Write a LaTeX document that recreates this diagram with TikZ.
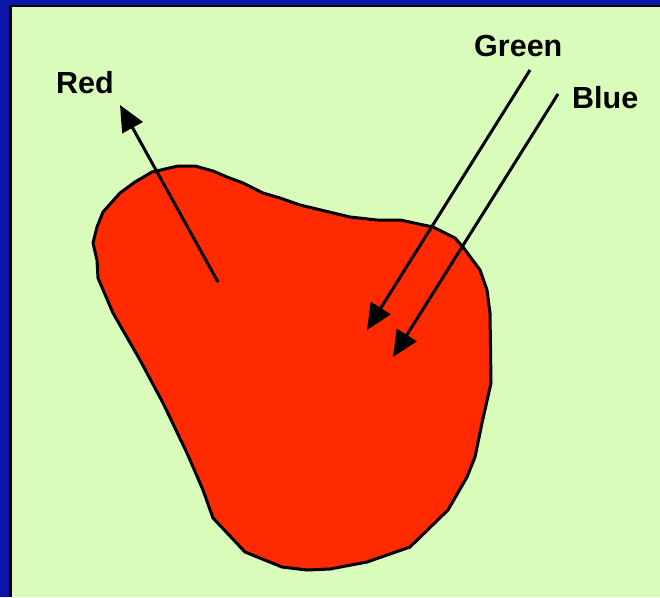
\documentclass[tikz,border=0pt]{standalone}
\usepackage{fontspec}
\setmainfont{Liberation Sans}
\usetikzlibrary{arrows.meta}
\definecolor{slideblue}{RGB}{10,22,168}
\definecolor{bggreen}{RGB}{218,252,186}
\definecolor{blobred}{RGB}{255,42,0}
\tikzset{
  arr/.style={line width=3pt,-{Triangle[length=26pt,width=23pt]}},
  lbl/.style={anchor=base west,inner sep=0pt,font=\fontsize{30.5}{31}\selectfont\bfseries},
  blob/.style={fill=blobred,draw=black,line width=3pt,line join=round}
}
\begin{document}
\begin{tikzpicture}[x=1pt,y=-1pt]
\useasboundingbox (0,0) rectangle (660,597);
% slide frame
\fill[slideblue] (0,0) rectangle (660,597);
\fill[bggreen] (10.5,6) rectangle (660,597);
\draw[black,line width=2.5pt] (10.5,597) -- (10.5,6) -- (660,6);
% blob
\draw[blob] (178,166) -- (195,166) -- (213,171) -- (227,177) -- (243,183) -- (263,193) -- (280,198)
  -- (300,205) -- (350,217) -- (377,220) -- (400,220) -- (433,227) -- (455,238) -- (463,247)
  -- (480,270) -- (487,290) -- (490,313) -- (491,383) -- (482,423) -- (475,457) -- (467,477)
  -- (448,510) -- (410,547) -- (367,562) -- (330,569) -- (307,570) -- (282,567) -- (245,552)
  -- (213,518) -- (203,490) -- (187,453) -- (163,403) -- (140,360) -- (113,313) -- (98,278)
  -- (97,260) -- (93,243) -- (97,227) -- (103,212) -- (120,193) -- (135,182) -- (152,172) -- cycle;
% labels
\node[lbl] (red) at (56,93) {Red};
\node[lbl] (green) at (474,56) {Green};
\node[lbl] (blue) at (572,108) {Blue};
% arrows
\coordinate (redS) at (218,282);
\coordinate (redT) at (120,105);
\coordinate (greenS) at (530,70);
\coordinate (greenT) at (367,330);
\coordinate (blueS) at (558,94);
\coordinate (blueT) at (393,357);
\draw[arr] (redS) -- (redT);
\draw[arr] (greenS) -- (greenT);
\draw[arr] (blueS) -- (blueT);
\end{tikzpicture}
\end{document}
